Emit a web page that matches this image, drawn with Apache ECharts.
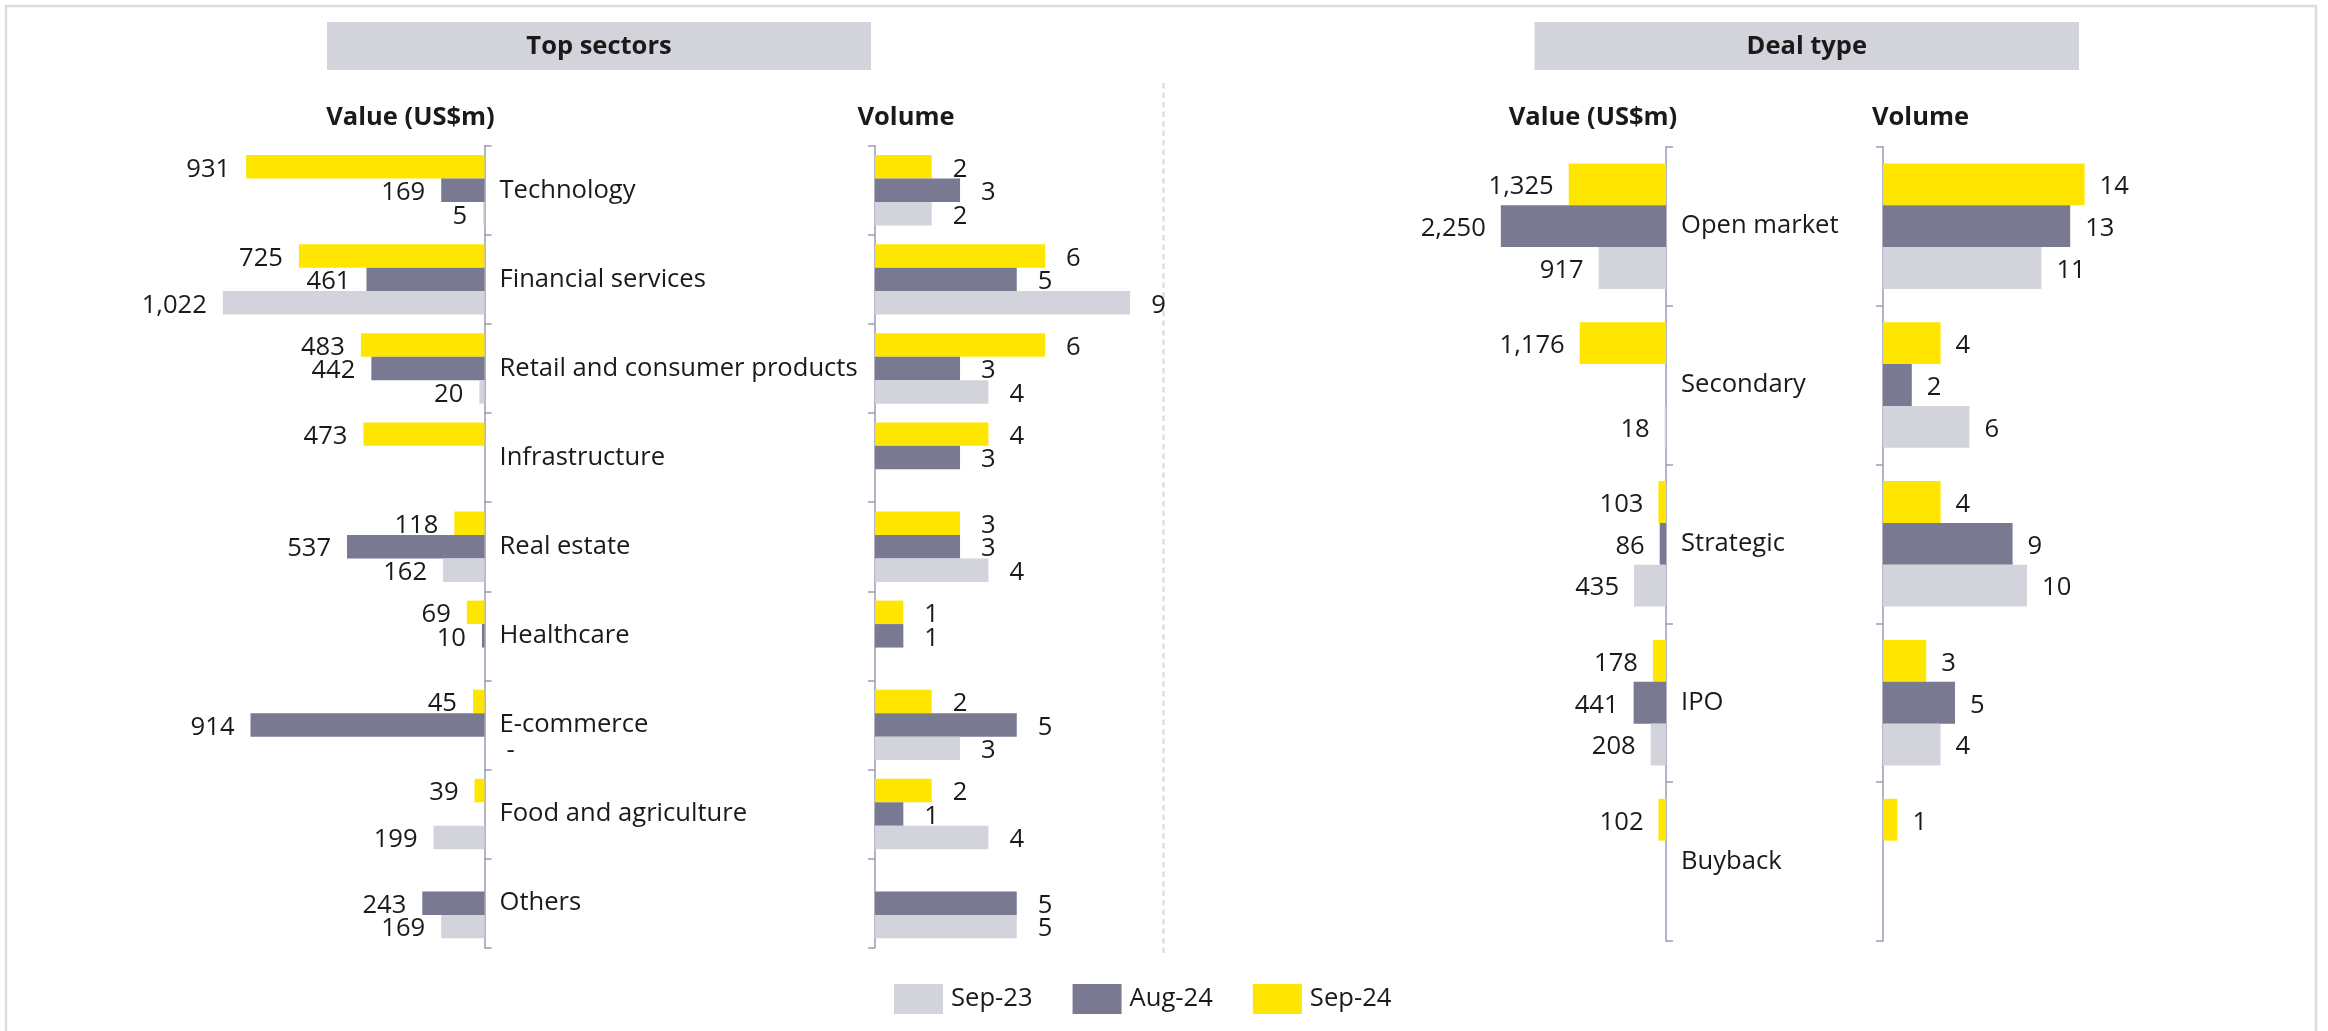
<!DOCTYPE html>
<html>
<head>
<meta charset="utf-8">
<script src="https://cdn.jsdelivr.net/npm/echarts@6/dist/echarts.min.js"></script>
<style>
  html, body { margin: 0; padding: 0; background: #ffffff; }
  #chart { width: 2328px; height: 1031px; }
</style>
</head>
<body>
<div id="chart"></div>
<script>
// ---- Data ----
const periods = ['Sep-24', 'Aug-24', 'Sep-23'];
const legendOrder = ['Sep-23', 'Aug-24', 'Sep-24'];

const sectorCategories = ['Technology', 'Financial services', 'Retail and consumer products',
  'Infrastructure', 'Real estate', 'Healthcare', 'E-commerce', 'Food and agriculture', 'Others'];
// Value (US$m); null = no entry, 0 = shown as "-"
const sectorValueSep24 = [931, 725, 483, 473, 118, 69, 45, 39, null];
const sectorValueAug24 = [169, 461, 442, null, 537, 10, 914, null, 243];
const sectorValueSep23 = [5, 1022, 20, null, 162, null, 0, 199, 169];
// Volume (number of deals)
const sectorVolumeSep24 = [2, 6, 6, 4, 3, 1, 2, 2, null];
const sectorVolumeAug24 = [3, 5, 3, 3, 3, 1, 5, 1, 5];
const sectorVolumeSep23 = [2, 9, 4, null, 4, null, 3, 4, 5];

const dealCategories = ['Open market', 'Secondary', 'Strategic', 'IPO', 'Buyback'];
const dealValueSep24 = [1325, 1176, 103, 178, 102];
const dealValueAug24 = [2250, null, 86, 441, null];
const dealValueSep23 = [917, 18, 435, 208, null];
const dealVolumeSep24 = [14, 4, 4, 3, 1];
const dealVolumeAug24 = [13, 2, 9, 5, null];
const dealVolumeSep23 = [11, 6, 10, 4, null];

// ---- Styling ----
const FONT = 'Open Sans';
const FS = 25.6;
const TEXT = '#1a1a1a';
const AXIS = '#9b9bb0';
const colors = { 'Sep-24': '#ffe600', 'Aug-24': '#797991', 'Sep-23': '#d2d3db' };

function fmt(v) {
  return v === 0 ? '-' : Number(v).toLocaleString('en-US');
}

function barSeries(name, data, idx, side, distance) {
  const opposite = side === 'left' ? 'right' : 'left';
  return {
    type: 'bar',
    name: name,
    xAxisIndex: idx,
    yAxisIndex: idx,
    barGap: '0%',
    barCategoryGap: '21%',
    itemStyle: { color: colors[name] },
    emphasis: { disabled: true },
    data: data.map(v => v === 0 ? { value: 0, label: { position: opposite, distance: 22 } } : v),
    label: {
      show: true,
      position: side,
      distance: distance,
      offset: [0, 2.5],
      color: TEXT,
      fontFamily: FONT,
      fontSize: FS,
      formatter: p => fmt(p.value)
    }
  };
}

function catAxis(idx, cats, position, withLabels) {
  return {
    type: 'category',
    gridIndex: idx,
    data: cats,
    inverse: true,
    position: position,
    axisLine: { show: true, lineStyle: { color: AXIS, width: 1.5 } },
    axisTick: { show: true, length: 7, lineStyle: { color: AXIS, width: 1.5 } },
    axisLabel: {
      show: withLabels,
      margin: 15,
      color: TEXT,
      fontFamily: FONT,
      fontSize: FS,
      align: 'left',
      padding: [5, 0, 0, 0]
    },
    splitLine: { show: false }
  };
}

function valAxis(idx, max, inverse) {
  return {
    type: 'value',
    gridIndex: idx,
    min: 0,
    max: max,
    inverse: inverse,
    show: false,
    splitLine: { show: false }
  };
}

const grids = [
  { left: 100.5, width: 384, top: 145.7, height: 802 },      // sectors value
  { left: 875, width: 283.5, top: 145.7, height: 802 },      // sectors volume
  { left: 1445.8, width: 220.2, top: 146.7, height: 794.3 }, // deal value
  { left: 1883, width: 288, top: 146.7, height: 794.3 }      // deal volume
];

const series = [];
[sectorValueSep24, sectorValueAug24, sectorValueSep23].forEach((d, i) => series.push(barSeries(periods[i], d, 0, 'left', 16)));
[sectorVolumeSep24, sectorVolumeAug24, sectorVolumeSep23].forEach((d, i) => series.push(barSeries(periods[i], d, 1, 'right', 21)));
[dealValueSep24, dealValueAug24, dealValueSep23].forEach((d, i) => series.push(barSeries(periods[i], d, 2, 'left', 15)));
[dealVolumeSep24, dealVolumeAug24, dealVolumeSep23].forEach((d, i) => series.push(barSeries(periods[i], d, 3, 'right', 15)));

const BOLD = 'bold 25.5px "Open Sans"';

function headerBox(x, w, text) {
  return {
    type: 'group',
    children: [
      { type: 'rect', shape: { x: x, y: 22, width: w, height: 48 }, style: { fill: '#d2d3db' } },
      { type: 'text', x: x + w / 2, y: 47,
        style: { text: text, font: BOLD, fill: TEXT, align: 'center', verticalAlign: 'middle' } }
    ]
  };
}

function panelTitle(cx, text) {
  return { type: 'text', x: cx, y: 118,
    style: { text: text, font: BOLD, fill: TEXT, align: 'center', verticalAlign: 'middle' } };
}

const chart = echarts.init(document.getElementById('chart'), null, { renderer: 'canvas' });
chart.setOption({
  animation: false,
  backgroundColor: '#ffffff',
  grid: grids,
  xAxis: [valAxis(0, 1500, true), valAxis(1, 10, false), valAxis(2, 3000, true), valAxis(3, 20, false)],
  yAxis: [
    catAxis(0, sectorCategories, 'right', true),
    catAxis(1, sectorCategories, 'left', false),
    catAxis(2, dealCategories, 'right', true),
    catAxis(3, dealCategories, 'left', false)
  ],
  legend: {
    data: legendOrder,
    left: 889,
    top: 979,
    itemWidth: 49,
    itemHeight: 30,
    itemGap: 40,
    icon: 'rect',
    selectedMode: false,
    textStyle: { color: TEXT, fontFamily: FONT, fontSize: FS, padding: [0, 0, 0, 3] }
  },
  series: series,
  graphic: [
    { type: 'rect', silent: true, shape: { x: 6, y: 6, width: 2310, height: 1040 },
      style: { fill: 'none', stroke: '#dcdce3', lineWidth: 2.5 } },
    { type: 'line', silent: true, shape: { x1: 1163.5, y1: 83, x2: 1163.5, y2: 953 },
      style: { stroke: '#d8d8df', lineWidth: 2, lineDash: [5.5, 4] } },
    headerBox(327, 544, 'Top sectors'),
    headerBox(1534.6, 544.4, 'Deal type'),
    panelTitle(410.5, 'Value (US$m)'),
    panelTitle(906, 'Volume'),
    panelTitle(1593, 'Value (US$m)'),
    panelTitle(1920.5, 'Volume')
  ]
});
</script>
</body>
</html>
